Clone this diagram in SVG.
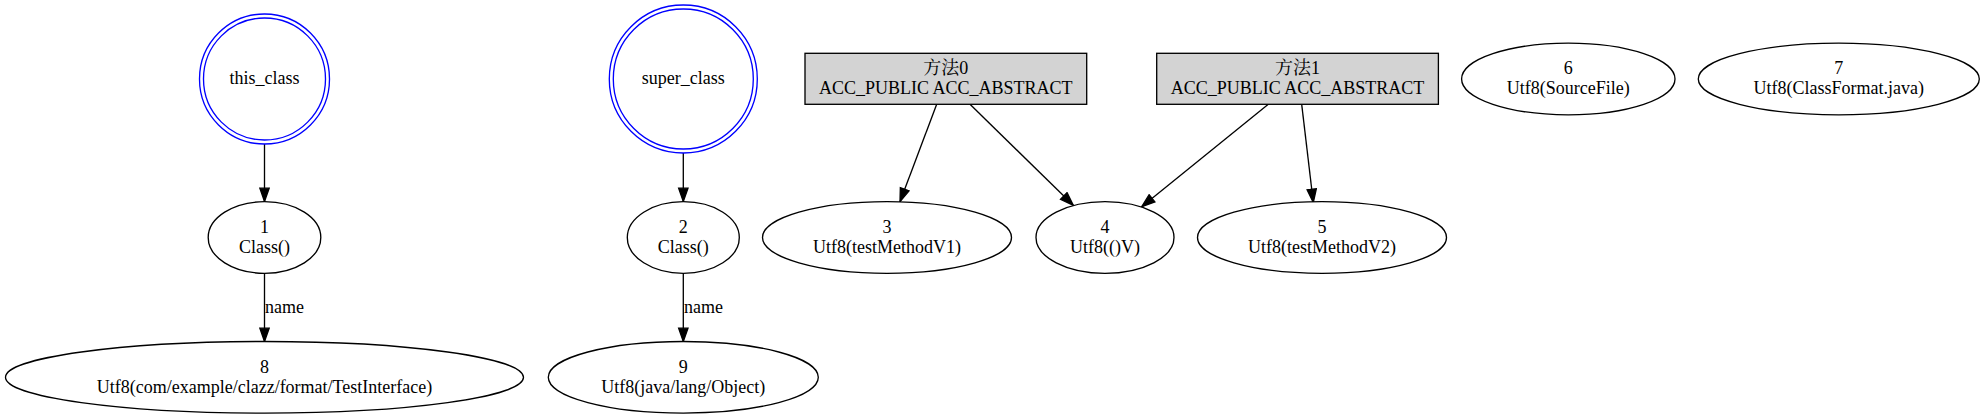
<svg xmlns="http://www.w3.org/2000/svg" width="1985" height="419" viewBox="0 0 1985 419">
<style>
text{font-family:"Liberation Serif","Noto Serif CJK SC","Noto Sans CJK SC",serif;font-size:18px;fill:#000;text-anchor:middle}
.lbl{text-anchor:start}
.n{fill:#fff;stroke:#000;stroke-width:1.33}
.dc{fill:none;stroke:#0000ff;stroke-width:1.33}
.box{fill:#d3d3d3;stroke:#000;stroke-width:1.33}
.e{fill:none;stroke:#000;stroke-width:1.33;marker-end:url(#arr)}
</style>
<defs>
<marker id="arr" markerUnits="userSpaceOnUse" viewBox="-1 -1 15.5 11.5" refX="13.33" refY="4.67" markerWidth="15.5" markerHeight="11.5" orient="auto">
<path d="M0,0 L13.33,4.67 L0,9.33 Z" fill="#000" stroke="#000" stroke-width="1.33"/>
</marker>
</defs>
<rect width="1985" height="419" fill="#fff"/>
<g id="connectors">
<line class="e" x1="264.5" y1="144" x2="264.5" y2="201.5"/>
<line class="e" x1="264.5" y1="273.5" x2="264.5" y2="341.5"/>
<text class="lbl" x="265" y="313">name</text>
<line class="e" x1="683.3" y1="153" x2="683.3" y2="201.5"/>
<line class="e" x1="683.3" y1="273.5" x2="683.3" y2="341.5"/>
<text class="lbl" x="684" y="313">name</text>
<line class="e" x1="936.7" y1="104.3" x2="900" y2="201.7"/>
<line class="e" x1="970" y1="104.3" x2="1073.3" y2="205.3"/>
<line class="e" x1="1268.3" y1="104.3" x2="1141.7" y2="206.7"/>
<line class="e" x1="1301.7" y1="104.3" x2="1313.3" y2="202.5"/>
</g>
<g id="this_class">
<circle class="dc" cx="264.5" cy="79" r="61"/>
<circle class="dc" cx="264.5" cy="79" r="65"/>
<text x="264.5" y="84">this_class</text>
</g>
<g id="super_class">
<circle class="dc" cx="683.3" cy="79" r="70"/>
<circle class="dc" cx="683.3" cy="79" r="74"/>
<text x="683.3" y="84">super_class</text>
</g>
<g id="method0">
<rect class="box" x="805" y="53.3" width="281.7" height="51"/>
<text x="945.8" y="74.3">方法0</text>
<text x="945.8" y="94.3">ACC_PUBLIC ACC_ABSTRACT</text>
</g>
<g id="method1">
<rect class="box" x="1156.7" y="53.3" width="281.7" height="51"/>
<text x="1297.5" y="74.3">方法1</text>
<text x="1297.5" y="94.3">ACC_PUBLIC ACC_ABSTRACT</text>
</g>
<g id="node6">
<ellipse class="n" cx="1568.3" cy="79" rx="106.7" ry="35.8"/>
<text x="1568.3" y="74.3">6</text>
<text x="1568.3" y="94.3">Utf8(SourceFile)</text>
</g>
<g id="node7">
<ellipse class="n" cx="1838.8" cy="79" rx="140.5" ry="35.8"/>
<text x="1838.8" y="74.3">7</text>
<text x="1838.8" y="94.3">Utf8(ClassFormat.java)</text>
</g>
<g id="node1">
<ellipse class="n" cx="264.5" cy="237.5" rx="56.3" ry="35.8"/>
<text x="264.5" y="233">1</text>
<text x="264.5" y="253">Class()</text>
</g>
<g id="node2">
<ellipse class="n" cx="683.3" cy="237.5" rx="56" ry="35.8"/>
<text x="683.3" y="233">2</text>
<text x="683.3" y="253">Class()</text>
</g>
<g id="node3">
<ellipse class="n" cx="887" cy="237.5" rx="124.5" ry="35.8"/>
<text x="887" y="233">3</text>
<text x="887" y="253">Utf8(testMethodV1)</text>
</g>
<g id="node4">
<ellipse class="n" cx="1105" cy="237.5" rx="69" ry="35.8"/>
<text x="1105" y="233">4</text>
<text x="1105" y="253">Utf8(()V)</text>
</g>
<g id="node5">
<ellipse class="n" cx="1322" cy="237.5" rx="124.5" ry="35.8"/>
<text x="1322" y="233">5</text>
<text x="1322" y="253">Utf8(testMethodV2)</text>
</g>
<g id="node8">
<ellipse class="n" cx="264.5" cy="377.3" rx="259" ry="35.8"/>
<text x="264.5" y="373">8</text>
<text x="264.5" y="393">Utf8(com/example/clazz/format/TestInterface)</text>
</g>
<g id="node9">
<ellipse class="n" cx="683.3" cy="377.3" rx="135" ry="35.8"/>
<text x="683.3" y="373">9</text>
<text x="683.3" y="393">Utf8(java/lang/Object)</text>
</g>
</svg>
